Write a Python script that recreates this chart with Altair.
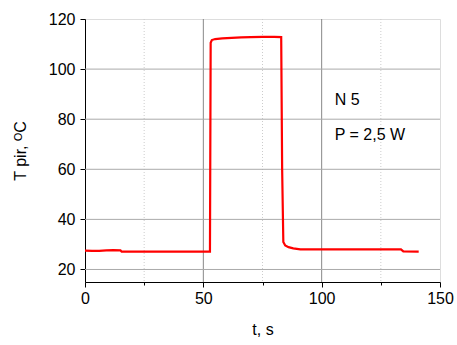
import altair as alt
import pandas as pd

# measured curve
t_vals = [0, 3, 6, 9, 12, 15, 15.5, 52.8, 53.1, 53.6, 55, 58, 62, 66, 70, 75, 80, 82.9, 83.3, 83.8, 84.6, 86, 88, 91, 100, 110, 120, 130, 133.5, 134.5, 141]
T_vals = [27.5, 27.4, 27.4, 27.6, 27.7, 27.6, 27.1, 27.1, 110.5, 111.6, 112.0, 112.3, 112.5, 112.7, 112.8, 112.9, 112.9, 112.8, 60, 31.0, 29.6, 28.9, 28.4, 28.0, 28.0, 28.0, 28.0, 28.0, 28.0, 27.2, 27.1]

x_major_grid = [50, 100]
x_minor_grid = [25, 75, 125]
y_grid = [20, 40, 60, 80, 100]

ann_text = ["N 5", "P = 2,5 W"]
ann_x = [105.5, 105.5]
ann_y = [87.8, 73.8]

FONT = "Liberation Sans"

df = pd.DataFrame({"t": t_vals, "T": T_vals})
xs = alt.Scale(domain=[0, 150], nice=False, zero=False)
ys = alt.Scale(domain=[15, 120], nice=False, zero=False)

xaxis = alt.Axis(values=[0, 25, 50, 75, 100, 125, 150],
                 labelExpr="datum.value % 50 === 0 ? datum.label : ''",
                 tickSize={"condition": {"test": "datum.value % 50 === 0", "value": 5}, "value": 3},
                 grid=False, title="t, s", titleFont=FONT, titleFontSize=16, titleFontWeight="normal",
                 titleColor="black", labelFont=FONT, labelFontSize=16, labelColor="black",
                 domainColor="black", tickColor="black", labelPadding=3, titlePadding=15,
                 labelFlush=False)
yaxis = alt.Axis(values=[20, 30, 40, 50, 60, 70, 80, 90, 100, 110, 120],
                 labelExpr="datum.value % 20 === 0 ? datum.label : ''",
                 tickSize={"condition": {"test": "datum.value % 20 === 0", "value": 5}, "value": 3},
                 grid=False, title="T pir, ᴼC", titleFont=FONT, titleFontSize=16, titleFontWeight="normal",
                 titleColor="black", labelFont=FONT, labelFontSize=16, labelColor="black",
                 domainColor="black", tickColor="black", labelPadding=5, titlePadding=20,
                 labelFlush=False)

vmaj = alt.Chart(pd.DataFrame({"x": x_major_grid})).mark_rule(color="#888888", strokeWidth=1).encode(
    x=alt.X("x:Q", scale=xs))
vmin = alt.Chart(pd.DataFrame({"x": x_minor_grid})).mark_rule(color="#cccccc", strokeWidth=1, strokeDash=[1, 2]).encode(
    x=alt.X("x:Q", scale=xs))
hgrid = alt.Chart(pd.DataFrame({"y": y_grid})).mark_rule(color="#aaaaaa", strokeWidth=1).encode(
    y=alt.Y("y:Q", scale=ys))

line = alt.Chart(df).mark_line(color="#ff0000", strokeWidth=2.2).encode(
    x=alt.X("t:Q", scale=xs, axis=xaxis),
    y=alt.Y("T:Q", scale=ys, axis=yaxis),
)

ann = alt.Chart(pd.DataFrame({"x": ann_x, "y": ann_y, "txt": ann_text})).mark_text(
    align="left", baseline="middle", font=FONT, fontSize=16, color="black").encode(
    x=alt.X("x:Q", scale=xs), y=alt.Y("y:Q", scale=ys), text="txt:N")

chart = alt.layer(vmin, vmaj, hgrid, line, ann).properties(
    width=355, height=263, autosize="none",
    padding={"left": 85, "top": 19, "right": 17, "bottom": 63},
).configure_view(stroke=None).configure(background="white")

chart.save("out.html", embed_options={"renderer": "svg", "actions": False})
